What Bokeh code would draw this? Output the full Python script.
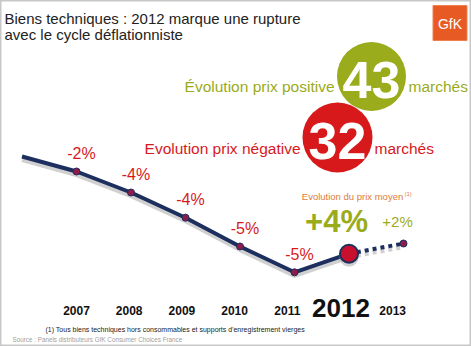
from bokeh.plotting import figure
from bokeh.models import Label, Range1d, ColumnDataSource
from bokeh.core.properties import value
from bokeh.embed import file_html
from bokeh.resources import INLINE

# ---- data ----
years = [2006, 2007, 2008, 2009, 2010, 2011, 2012, 2013]
price_index = [100, 97.5, 94, 89.8, 85, 80.7, 83.8, 85.5]
change_years = [2007, 2008, 2009, 2010, 2011]
change_labels = ["-2%", "-4%", "-4%", "-5%", "-5%"]
year_labels = ["2007", "2008", "2009", "2010", "2011", "2012", "2013"]
highlight_year = 2012
highlight_change = "+4%"
forecast_year = 2013
forecast_change = "+2%"
positive_markets = 43
negative_markets = 32

FONT = "Liberation Sans"
W, H = 471, 346
NAVY = "#1c2f5e"
RED = "#d7191c"
GREEN = "#9aab1c"

px_per_year = 54.5
px_per_unit = 6.0
x0 = 2006 - 21.5 / px_per_year
y_top = 100 + 156 / px_per_unit

p = figure(width=W, height=H, output_backend="svg", toolbar_location=None,
           x_axis_type=None, y_axis_type=None,
           x_range=Range1d(x0, x0 + W / px_per_year),
           y_range=Range1d(y_top - H / px_per_unit, y_top),
           min_border=0, min_border_left=0, min_border_right=0,
           min_border_top=0, min_border_bottom=0)
p.grid.visible = False
p.outline_line_color = "#c8c8c8"
p.outline_line_width = 2
p.background_fill_color = "white"
p.border_fill_color = "white"

def sl(text, x, y, size, color="#222222", bold=False, align="left", base="middle", font=FONT):
    p.add_layout(Label(x=x, y=H - y, x_units="screen", y_units="screen", text=text,
                       text_font=font, text_font_size=f"{size}px", text_color=color,
                       text_font_style="bold" if bold else "normal",
                       text_align=align, text_baseline=base))

# title
sl("Biens techniques : 2012 marque une rupture", 4, 18, 15)
sl("avec le cycle déflationniste", 4, 34, 15)

# GfK logo
p.rect(x=[x0 + 449.5 / px_per_year], y=[y_top - 22.5 / px_per_unit],
       width=34 / px_per_year, height=35 / px_per_unit,
       fill_color="#e85a24", line_color="#f08050")
sl("GfK", 449.5, 23, 14, color="white", align="center")

# bubbles
p.scatter(x=[x0 + 371 / px_per_year], y=[y_top - 76 / px_per_unit], size=69,
          fill_color=GREEN, line_color=None)
p.scatter(x=[x0 + 337 / px_per_year], y=[y_top - 137 / px_per_unit], size=70,
          fill_color=RED, line_color=None)
sl(str(positive_markets), 371, 79, 52, color="white", bold=True, align="center")
sl(str(negative_markets), 337, 140, 52, color="white", bold=True, align="center")
sl("Évolution prix positive", 334, 86, 15.5, color=GREEN, align="right")
sl("marchés", 408, 86, 15.5, color=GREEN)
sl("Evolution prix négative", 300, 148, 15.5, color=RED, align="right")
sl("marchés", 374, 148, 15.5, color=RED)

# line shadow
shadow = [v - 0.6 for v in price_index]
p.line(years[:7], shadow[:7], line_color="#b0b0b0", line_width=4, line_alpha=0.6)
p.line(years[6:], shadow[6:], line_color="#b0b0b0", line_width=4, line_alpha=0.6,
       line_dash="4 4")

# main line
p.line(years[:7], price_index[:7], line_color=NAVY, line_width=4)
p.line(years[6:], price_index[6:], line_color=NAVY, line_width=4, line_dash="4 4")

# markers
mk_years = years[1:6] + [years[7]]
mk_vals = price_index[1:6] + [price_index[7]]
p.scatter(mk_years, mk_vals, size=7, fill_color="#8e1b48", line_color=NAVY, line_width=1)
hi = years.index(highlight_year)
p.scatter([years[hi]], [price_index[hi] - 0.6], size=19, fill_color="#b0b0b0",
          fill_alpha=0.6, line_color=None)
p.scatter([years[hi]], [price_index[hi]], size=18, fill_color="#c8102e",
          line_color=NAVY, line_width=2)

# change labels
src = ColumnDataSource(dict(x=change_years,
                            y=[price_index[years.index(yv)] for yv in change_years],
                            t=change_labels))
p.text(x="x", y="y", text="t", source=src, x_offset=5, y_offset=-18,
       text_font=value(FONT), text_font_size="16px", text_color=RED,
       text_align="center", text_baseline="middle")

# average price evolution
sl("Evolution du prix moyen", 352, 196, 9.5, color="#e07b39", align="center")
sl("(1)", 404, 193, 6, color="#e07b39")
sl(highlight_change, 336, 221, 31, color=GREEN, bold=True, align="center")
sl(forecast_change, 397, 221, 15, color=GREEN, align="center")

# year labels
for i, yl in enumerate(year_labels):
    big = int(yl) == highlight_year
    xpx = 76 + i * 52.7 + (1 if big else 0)
    sl(yl, xpx, 310 if not big else 307, 26 if big else 12, color="#111111",
       bold=True, align="center")

# footnotes
sl("(1)  Tous biens techniques hors consommables et supports d'enregistrement vierges",
   45, 329, 7, color="#222222")
sl("Source : Panels distributeurs GfK Consumer Choices France", 12, 339, 6.3,
   color="#a0a0a0")

open("out.html", "w").write(file_html(p, INLINE))
